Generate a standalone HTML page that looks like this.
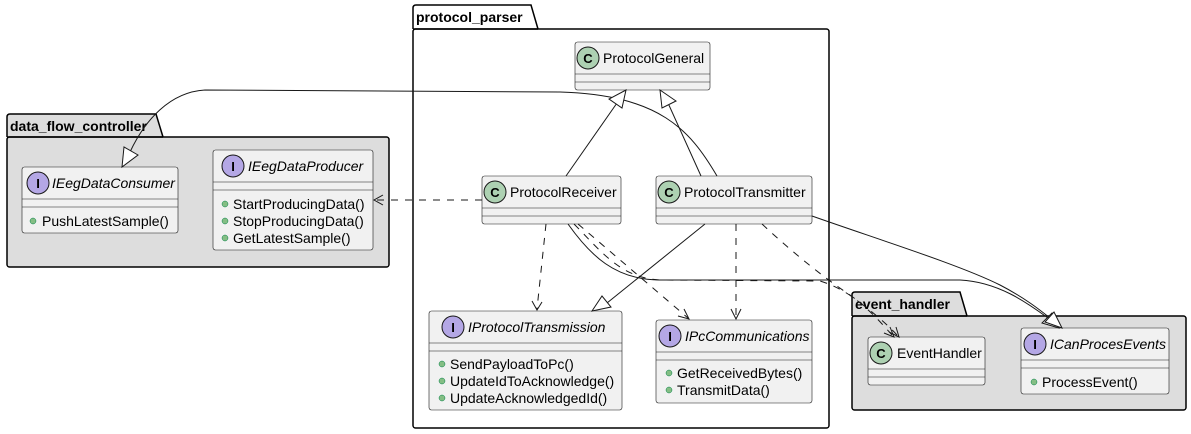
<!DOCTYPE html>
<html><head><meta charset="utf-8"><style>
html,body{margin:0;padding:0;background:#fff}
svg{display:block}
text{font-family:"Liberation Sans",sans-serif;fill:#000}
.cn{font-size:14px}
.it{font-size:14px;font-style:italic}
.m{font-size:14px}
.pk{font-size:14px;font-weight:bold}
.box{fill:#f1f1f1;stroke:#181818;stroke-width:0.6}
.ln{stroke:#181818;stroke-width:0.6}
.e{fill:none;stroke:#181818;stroke-width:1}
.d{fill:none;stroke:#181818;stroke-width:1;stroke-dasharray:7,7}
.tri{fill:#fff;stroke:#181818;stroke-width:1}
.dot{fill:#84be84;stroke:#038048;stroke-width:0.5}
</style></head><body>
<svg width="1191" height="434" viewBox="0 0 1191 434" xmlns="http://www.w3.org/2000/svg">
<path d="M7,137 V117 Q7,114 10,114 H156 L163,137" fill="#dddddd" stroke="#000" stroke-width="1.5"/>
<rect x="7" y="137" width="382" height="130" rx="2.5" fill="#dddddd" stroke="#000" stroke-width="1.5"/>
<line x1="7" y1="137" x2="163" y2="137" stroke="#000" stroke-width="1.5"/>
<text class="pk" x="10" y="131">data_flow_controller</text>

<path d="M413,29 V8 Q413,5 416,5 H531 L538,29" fill="#fff" stroke="#000" stroke-width="1.5"/>
<rect x="413" y="29" width="416" height="399" rx="2.5" fill="#fff" stroke="#000" stroke-width="1.5"/>
<line x1="413" y1="29" x2="538" y2="29" stroke="#000" stroke-width="1.5"/>
<text class="pk" x="416" y="22">protocol_parser</text>

<path d="M852,316 V295 Q852,292 855,292 H960 L967,316" fill="#dddddd" stroke="#000" stroke-width="1.5"/>
<rect x="852" y="316" width="334" height="94" rx="2.5" fill="#dddddd" stroke="#000" stroke-width="1.5"/>
<line x1="852" y1="316" x2="967" y2="316" stroke="#000" stroke-width="1.5"/>
<text class="pk" x="855" y="309">event_handler</text>

<g>
<rect class="box" x="575" y="42" width="135" height="48" rx="2.5"/>
<line class="ln" x1="575" y1="74" x2="710" y2="74"/><line class="ln" x1="575" y1="82" x2="710" y2="82"/>
<circle cx="588" cy="58" r="11" fill="#add1b2" stroke="#181818" stroke-width="1"/><text x="588" y="63" text-anchor="middle" style="font-size:13px;font-weight:bold">C</text>
<text class="cn" x="603" y="63">ProtocolGeneral</text>
</g>
<g>
<rect class="box" x="482" y="176" width="139" height="48" rx="2.5"/>
<line class="ln" x1="482" y1="208" x2="621" y2="208"/><line class="ln" x1="482" y1="216" x2="621" y2="216"/>
<circle cx="495" cy="192" r="11" fill="#add1b2" stroke="#181818" stroke-width="1"/><text x="495" y="197" text-anchor="middle" style="font-size:13px;font-weight:bold">C</text>
<text class="cn" x="510" y="197">ProtocolReceiver</text>
</g>
<g>
<rect class="box" x="656" y="176" width="156" height="48" rx="2.5"/>
<line class="ln" x1="656" y1="208" x2="812" y2="208"/><line class="ln" x1="656" y1="216" x2="812" y2="216"/>
<circle cx="669" cy="192" r="11" fill="#add1b2" stroke="#181818" stroke-width="1"/><text x="669" y="197" text-anchor="middle" style="font-size:13px;font-weight:bold">C</text>
<text class="cn" x="684" y="197">ProtocolTransmitter</text>
</g>
<g>
<rect class="box" x="22" y="167" width="156" height="66" rx="2.5"/>
<line class="ln" x1="22" y1="199" x2="178" y2="199"/><line class="ln" x1="22" y1="207" x2="178" y2="207"/>
<circle cx="38" cy="183" r="11" fill="#b4a7e5" stroke="#181818" stroke-width="1"/><text x="38" y="188" text-anchor="middle" style="font-size:13px;font-weight:bold">I</text>
<text class="it" x="52" y="188">IEegDataConsumer</text>
<circle class="dot" cx="33" cy="221" r="3"/><text class="m" x="42" y="226">PushLatestSample()</text>
</g>
<g>
<rect class="box" x="213" y="150" width="160" height="100" rx="2.5"/>
<line class="ln" x1="213" y1="182" x2="373" y2="182"/><line class="ln" x1="213" y1="190" x2="373" y2="190"/>
<circle cx="233" cy="166" r="11" fill="#b4a7e5" stroke="#181818" stroke-width="1"/><text x="233" y="171" text-anchor="middle" style="font-size:13px;font-weight:bold">I</text>
<text class="it" x="248" y="171">IEegDataProducer</text>
<circle class="dot" cx="225" cy="204" r="3"/><text class="m" x="233" y="209">StartProducingData()</text>
<circle class="dot" cx="225" cy="221" r="3"/><text class="m" x="233" y="226">StopProducingData()</text>
<circle class="dot" cx="225" cy="238" r="3"/><text class="m" x="233" y="243">GetLatestSample()</text>
</g>
<g>
<rect class="box" x="429" y="311" width="193" height="99" rx="2.5"/>
<line class="ln" x1="429" y1="343" x2="622" y2="343"/><line class="ln" x1="429" y1="351" x2="622" y2="351"/>
<circle cx="453" cy="327" r="11" fill="#b4a7e5" stroke="#181818" stroke-width="1"/><text x="453" y="332" text-anchor="middle" style="font-size:13px;font-weight:bold">I</text>
<text class="it" x="468" y="332">IProtocolTransmission</text>
<circle class="dot" cx="442" cy="364" r="3"/><text class="m" x="450" y="369">SendPayloadToPc()</text>
<circle class="dot" cx="442" cy="381" r="3"/><text class="m" x="450" y="386">UpdateIdToAcknowledge()</text>
<circle class="dot" cx="442" cy="398" r="3"/><text class="m" x="450" y="403">UpdateAcknowledgedId()</text>
</g>
<g>
<rect class="box" x="656" y="320" width="156" height="83" rx="2.5"/>
<line class="ln" x1="656" y1="352" x2="812" y2="352"/><line class="ln" x1="656" y1="360" x2="812" y2="360"/>
<circle cx="670" cy="336" r="11" fill="#b4a7e5" stroke="#181818" stroke-width="1"/><text x="670" y="341" text-anchor="middle" style="font-size:13px;font-weight:bold">I</text>
<text class="it" x="685" y="341">IPcCommunications</text>
<circle class="dot" cx="669" cy="373" r="3"/><text class="m" x="677" y="378">GetReceivedBytes()</text>
<circle class="dot" cx="669" cy="390" r="3"/><text class="m" x="677" y="395">TransmitData()</text>
</g>
<g>
<rect class="box" x="868" y="337" width="117" height="48" rx="2.5"/>
<line class="ln" x1="868" y1="369" x2="985" y2="369"/><line class="ln" x1="868" y1="377" x2="985" y2="377"/>
<circle cx="881" cy="353" r="11" fill="#add1b2" stroke="#181818" stroke-width="1"/><text x="881" y="358" text-anchor="middle" style="font-size:13px;font-weight:bold">C</text>
<text class="cn" x="897" y="358">EventHandler</text>
</g>
<g>
<rect class="box" x="1021" y="328" width="148" height="66" rx="2.5"/>
<line class="ln" x1="1021" y1="360" x2="1169" y2="360"/><line class="ln" x1="1021" y1="368" x2="1169" y2="368"/>
<circle cx="1035" cy="344" r="11" fill="#b4a7e5" stroke="#181818" stroke-width="1"/><text x="1035" y="349" text-anchor="middle" style="font-size:13px;font-weight:bold">I</text>
<text class="it" x="1050" y="349">ICanProcesEvents</text>
<circle class="dot" cx="1034" cy="382" r="3"/><text class="m" x="1042" y="387">ProcessEvent()</text>
</g>

<path class="e" d="M717,176 C690,130 660,95 560,92 L205,90 C170,92 145,120 130,152"/>
<polygon class="tri" points="122,167 124,147 138,155"/>
<path class="e" d="M566,176 L617,103"/>
<polygon class="tri" points="626,90 622,108 609,99"/>
<path class="e" d="M701,176 L668,103"/>
<polygon class="tri" points="660,90 676,101 662,108"/>
<path class="d" d="M482,200 L375,200"/>
<path class="e" d="M383,195 L374,200 L383,205"/>
<path class="d" d="M546,224 L537,309"/>
<path class="e" d="M532,301 L537,310 L542,302"/>
<path class="d" d="M578,224 L688,318"/>
<path class="e" d="M678,316 L689,319 L684,309"/>
<path class="d" d="M736,224 L736,318"/>
<path class="e" d="M731,309 L736,319 L741,309"/>
<path class="e" d="M568,224 C590,255 615,280 660,280 L960,280 C1000,282 1030,305 1048,318"/>
<polygon class="tri" points="1059,328 1042,323 1052,313"/>
<path class="d" d="M574,224 C600,250 620,278 660,280 L820,281 C850,290 870,310 892,335"/>
<path class="e" d="M884,333 L894,337 L890,327"/>
<path class="e" d="M705,224 L607,303"/>
<polygon class="tri" points="592,311 602,296 611,307"/>
<path class="d" d="M762,224 C790,250 820,275 850,295 C870,310 885,322 897,335"/>
<path class="e" d="M889,332 L899,337 L896,327"/>
<path class="e" d="M812,216 C880,240 960,265 1000,285 C1025,298 1040,310 1050,318"/>
<polygon class="tri" points="1062,328 1045,322 1054,312"/>
</svg>
</body></html>
